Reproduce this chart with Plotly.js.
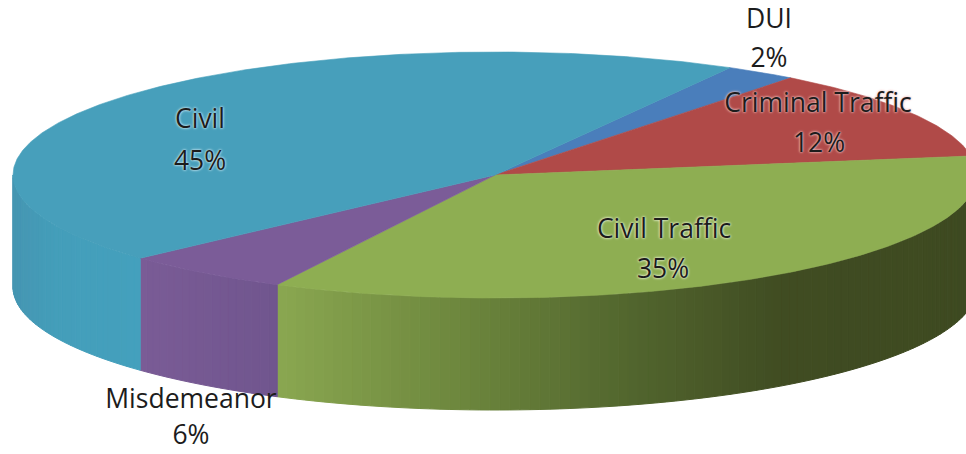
<!DOCTYPE html>
<html><head><meta charset="utf-8">
<script src="https://cdn.plot.ly/plotly-3.0.1.min.js"></script>
<style>html,body{margin:0;padding:0;background:#fff}#c{width:966px;height:454px}</style>
</head><body><div id="c"></div>
<script>
// Data, in drawing order clockwise from the start angle
const categories = ['DUI','Criminal Traffic','Civil Traffic','Misdemeanor','Civil'];
const shares = [2.4,12.0,34.9,5.7,44.9];
const topColors = ['#4A7EBB','#B04A48','#8EAE52','#7B5C98','#479FBB'];
// Wall colours as [x fraction across slice's visible wall, colour]
const wallStops = {
  'Civil Traffic':[[0,[138,167,80]],[0.25,[110,136,62]],[0.5,[82,102,46]],[0.72,[64,76,34]],[1,[62,74,33]]],
  'Misdemeanor':[[0,[122,92,150]],[1,[112,85,142]]],
  'Civil':[[0,[69,150,178]],[0.35,[68,158,186]],[1,[68,160,189]]]
};
// Geometry of the drawn disc (pixel space of the hidden axes)
const cx=495, cy=175, rx=482, ry=123, depth=112, startDeg=29.2;
const labelFont='"Open Sans", sans-serif', labelSize=26.5;
const labelPos={
 'DUI':[[769,21],[769,60]],
 'Criminal Traffic':[[818,105],[819,145]],
 'Civil Traffic':[[664,231],[663,271]],
 'Civil':[[200,121],[200,163]],
 'Misdemeanor':[[191,401],[191,437]]
};
const glow={'DUI':'none','Misdemeanor':'none','Criminal Traffic':'0 0 3px #f0c4c4, 0 0 2px #f0c4c4','Civil Traffic':'0 0 3px #eef5dc, 0 0 2px #eef5dc','Civil':'0 0 3px #d0ecf5, 0 0 2px #d0ecf5'};

const px=a=>cx+rx*Math.sin(a*Math.PI/180);
const py=a=>cy-ry*Math.cos(a*Math.PI/180);
const total=shares.reduce((s,v)=>s+v,0);
let ang=startDeg; const spans=categories.map((c,i)=>{const a0=ang; ang+=shares[i]/total*360; return [a0,ang];});
function lerpColor(stops,t){
  for(let i=1;i<stops.length;i++){ if(t<=stops[i][0]){
    const f=(t-stops[i-1][0])/(stops[i][0]-stops[i-1][0]||1);
    const c=stops[i-1][1].map((v,k)=>Math.round(v+(stops[i][1][k]-v)*f));
    return `rgb(${c.join(',')})`; } }
  return `rgb(${stops[stops.length-1][1].join(',')})`;
}
const traces=[];
function poly(xs,ys,color,lw){traces.push({type:'scatter',mode:'lines',x:xs,y:ys,fill:'toself',fillcolor:color,line:{color:color,width:lw},hoverinfo:'skip',showlegend:false,cliponaxis:true});}
// Side wall strips
categories.forEach((c,i)=>{
  if(!wallStops[c])return;
  let a0=Math.max(spans[i][0],90), a1=Math.min(spans[i][1],270);
  if(a1<=a0)return;
  const n=Math.ceil((a1-a0)/1.2);
  const xA=px(a0), xB=px(a1);
  const xl=Math.min(xA,xB), xr=Math.max(xA,xB);
  for(let k=0;k<n;k++){
    const b0=a0+(a1-a0)*k/n, b1=a0+(a1-a0)*(k+1)/n;
    const t=((px(b0)+px(b1))/2-xl)/(xr-xl);
    poly([px(b0),px(b1),px(b1),px(b0),px(b0)],[py(b0),py(b1),py(b1)+depth,py(b0)+depth,py(b0)],lerpColor(wallStops[c],t),1);
  }
});
// Top sectors
categories.forEach((c,i)=>{
  const xs=[cx],ys=[cy];
  const [a0,a1]=spans[i], n=Math.ceil((a1-a0)/0.5);
  for(let k=0;k<=n;k++){const a=a0+(a1-a0)*k/n; xs.push(px(a)); ys.push(py(a));}
  xs.push(cx);ys.push(cy);
  poly(xs,ys,topColors[i],0.6);
});
// Labels
categories.forEach((c,i)=>{
  const p=labelPos[c];
  traces.push({type:'scatter',mode:'text',x:[p[0][0],p[1][0]],y:[p[0][1],p[1][1]],
    text:[c,Math.round(shares[i])+'%'],textposition:'middle center',
    textfont:{family:labelFont,size:labelSize,color:'#1c1c1c',shadow:glow[c]},
    hoverinfo:'skip',showlegend:false,cliponaxis:false});
});
Plotly.newPlot('c',traces,{
  width:966,height:454,margin:{l:0,r:0,t:0,b:0},
  paper_bgcolor:'#fff',plot_bgcolor:'#fff',showlegend:false,
  xaxis:{range:[0,966],visible:false,fixedrange:true},
  yaxis:{range:[454,0],visible:false,fixedrange:true}
},{staticPlot:true,displayModeBar:false});
</script></body></html>
